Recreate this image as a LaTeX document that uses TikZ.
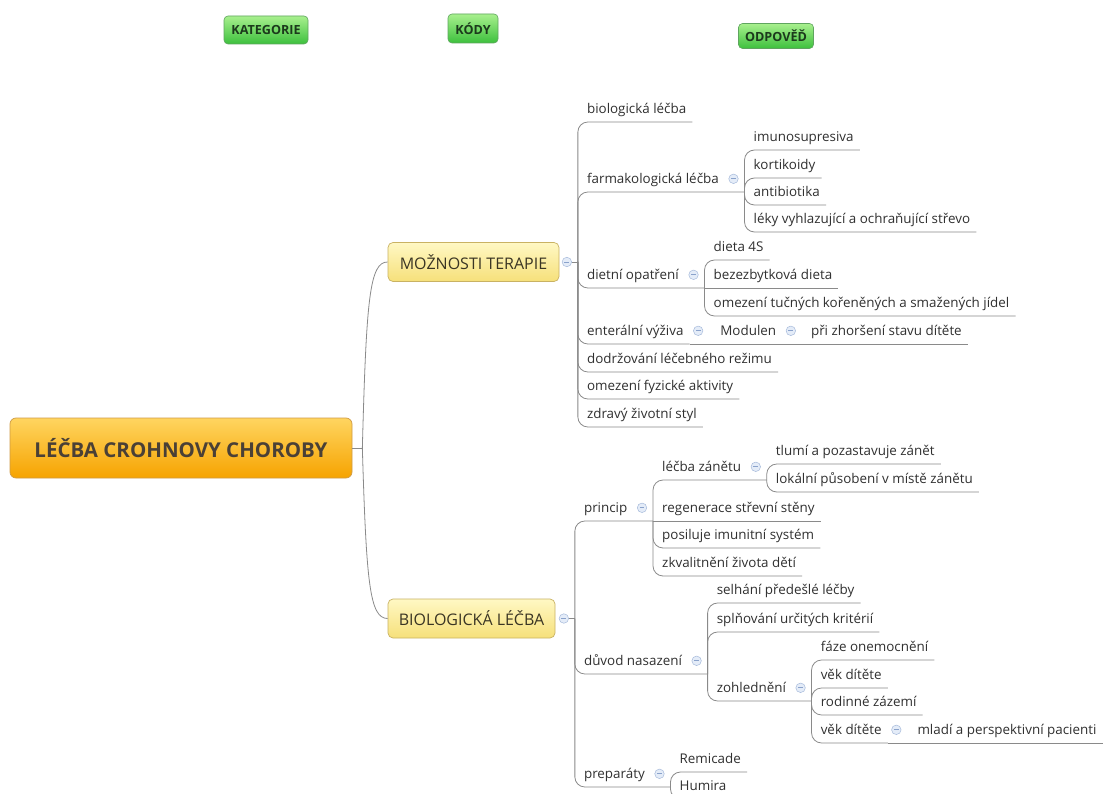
\documentclass[tikz,border=0pt]{standalone}
\usepackage{fontspec}
\setmainfont{Open Sans}
\usetikzlibrary{calc}
\definecolor{lnc}{HTML}{8A8A8A}
\definecolor{txc}{HTML}{303030}
\definecolor{togf}{HTML}{E4ECF8}
\definecolor{togd}{HTML}{A6BADB}
\definecolor{togm}{HTML}{8AA2CB}
\definecolor{rootT}{HTML}{FFD560}
\definecolor{rootB}{HTML}{F6A300}
\definecolor{rootD}{HTML}{CF9B45}
\definecolor{rootX}{HTML}{4A4036}
\definecolor{catT}{HTML}{FFF8C4}
\definecolor{catB}{HTML}{F6E07A}
\definecolor{catD}{HTML}{C9B263}
\definecolor{catX}{HTML}{3A3524}
\definecolor{hdrT}{HTML}{A8F08E}
\definecolor{hdrB}{HTML}{3DC03D}
\definecolor{hdrD}{HTML}{5FA55F}
\definecolor{hdrX}{HTML}{1C3A1C}
\newcommand{\leaffont}{\fontsize{13.4}{16}\selectfont}
\newcommand{\lf}[4]{\node[leaf] (#1) at ($(#2 |- 0,#3)+(3,0)$) {#4};}
\newcommand{\cn}[2]{\draw[conn] (#1) |- (#2.south east);}
\newcommand{\cp}[3]{\draw[conn] (#1) |- (#3);}
\newcommand{\tg}[2]{\node[tog, anchor=west] (#1) at ([xshift=3.5pt,yshift=1.5pt]#2.east) {};}
\begin{document}
\begin{tikzpicture}[x=1pt,y=-1pt,
  conn/.style={draw=lnc, line width=0.8pt, rounded corners=10pt},
  ln/.style={draw=lnc, line width=0.8pt},
  leaf/.style={anchor=south west, inner xsep=6pt, inner ysep=5pt, text height=10pt, text depth=3pt, text=txc, font=\leaffont},
  tog/.style={circle, minimum size=9.5pt, inner sep=0pt, fill=togf, draw=togd, line width=0.5pt,
    path picture={\draw[togm, line width=0.9pt] ([xshift=-2.4pt]path picture bounding box.center) -- ([xshift=2.4pt]path picture bounding box.center);}},
  hdr/.style={rounded corners=4pt, top color=hdrT, bottom color=hdrB, draw=hdrD, line width=0.6pt, inner sep=0pt, text=hdrX, font=\bfseries\fontsize{12.6}{15}\selectfont},
  rootbox/.style={rounded corners=6pt, top color=rootT, bottom color=rootB, draw=rootD, line width=0.7pt, inner sep=0pt, minimum width=342pt, minimum height=60pt, text=rootX, font=\bfseries\fontsize{20.5}{24}\selectfont},
  catbox/.style={rounded corners=5pt, top color=catT, bottom color=catB, draw=catD, line width=0.7pt, inner sep=0pt, minimum height=39pt, text=catX, font=\fontsize{16}{19}\selectfont}
]
\useasboundingbox[fill=white] (0,0) rectangle (1105,794);

% headers
\node[hdr, minimum width=84pt, minimum height=28pt] (hk) at (266,30) {KATEGORIE};
\node[hdr, minimum width=50pt, minimum height=29pt] (hc) at (473,28.5) {KÓDY};
\node[hdr, minimum width=75pt, minimum height=25pt] (ho) at (776,36) {ODPOVĚĎ};

% root and categories
\node[rootbox] (root) at (181,448) {LÉČBA CROHNOVY CHOROBY};
\node[catbox, minimum width=171pt] (moz) at (473.5,262) {MOŽNOSTI TERAPIE};
\node[catbox, minimum width=167pt] (bio) at (471.5,618.5) {BIOLOGICKÁ LÉČBA};
\coordinate (J) at ($(root.east)+(10,0)$);
\draw[ln] (root.east) -- (J);
\draw[ln] (J) .. controls ($(J)+(4,-150)$) and ($(moz.west)+(-18,0)$) .. (moz.west);
\draw[ln] (J) .. controls ($(J)+(4,135)$) and ($(bio.west)+(-18,0)$) .. (bio.west);

\node[tog, anchor=west] (tm) at ([xshift=2.5pt]moz.east) {};
\node[tog, anchor=west] (tb) at ([xshift=3.5pt]bio.east) {};
\coordinate (Pm) at ($(tm.east)+(6,0)$);
\coordinate (Pb) at ($(tb.east)+(6,0)$);
\draw[ln] (tm.east) -- (Pm);
\draw[ln] (tb.east) -- (Pb);

% ---- MOZNOSTI TERAPIE
\lf{m1}{Pm}{122}{biologická léčba}
\lf{m2}{Pm}{192}{farmakologická léčba}
\lf{m3}{Pm}{288}{dietní opatření}
\lf{m4}{Pm}{344}{enterální výživa}
\lf{m5}{Pm}{372}{dodržování léčebného režimu}
\lf{m6}{Pm}{399}{omezení fyzické aktivity}
\lf{m7}{Pm}{427}{zdravý životní styl}
\tg{tf}{m2}
\tg{td}{m3}
\tg{te}{m4}
\coordinate (Pf) at ($(tf.east |- m2.south)+(6,0)$);
\coordinate (Pd) at ($(td.east |- m3.south)+(6,0)$);
\cn{Pm}{m1}
\cp{Pm}{m2}{Pf}
\cp{Pm}{m3}{Pd}
\cn{Pm}{m4}
\cn{Pm}{m5}
\cn{Pm}{m6}
\cn{Pm}{m7}

\lf{f1}{Pf}{150}{imunosupresiva}
\lf{f2}{Pf}{178}{kortikoidy}
\lf{f3}{Pf}{205}{antibiotika}
\lf{f4}{Pf}{232}{léky vyhlazující a ochraňující střevo}
\cn{Pf}{f1}
\cn{Pf}{f2}
\cn{Pf}{f3}
\cn{Pf}{f4}

\lf{d1}{Pd}{260}{dieta 4S}
\lf{d2}{Pd}{288}{bezezbytková dieta}
\lf{d3}{Pd}{316}{omezení tučných kořeněných a smažených jídel}
\cn{Pd}{d1}
\draw[ln] (Pd) -- (d2.south east);
\cn{Pd}{d3}

\node[leaf] (e1) at ($(te.east |- 0,344)+(11,0)$) {Modulen};
\tg{te1}{e1}
\node[leaf] (e2) at ($(te1.east |- 0,344)+(9,0)$) {při zhoršení stavu dítěte};
\draw[ln] (m4.south east) -- (e1.south east);
\draw[ln] (e1.south east) -- (e2.south east);

% ---- BIOLOGICKA LECBA
\lf{b1}{Pb}{521}{princip}
\lf{b2}{Pb}{674}{důvod nasazení}
\lf{b3}{Pb}{787}{preparáty}
\tg{tp}{b1}
\tg{tn}{b2}
\tg{tr}{b3}
\coordinate (Pp) at ($(tp.east |- b1.south)+(6,0)$);
\coordinate (Pn) at ($(tn.east |- b2.south)+(6,0)$);
\coordinate (Pr) at ($(tr.east |- b3.south)+(6,0)$);
\cp{Pb}{b1}{Pp}
\cp{Pb}{b2}{Pn}
\cp{Pb}{b3}{Pr}

\lf{p1}{Pp}{480}{léčba zánětu}
\lf{p2}{Pp}{521}{regenerace střevní stěny}
\lf{p3}{Pp}{548}{posiluje imunitní systém}
\lf{p4}{Pp}{576}{zkvalitnění života dětí}
\tg{tz}{p1}
\coordinate (Pz) at ($(tz.east |- p1.south)+(6,0)$);
\cp{Pp}{p1}{Pz}
\draw[ln] (Pp) -- (p2.south east);
\cn{Pp}{p3}
\cn{Pp}{p4}

\lf{z1}{Pz}{464}{tlumí a pozastavuje zánět}
\lf{z2}{Pz}{492}{lokální působení v místě zánětu}
\cn{Pz}{z1}
\cn{Pz}{z2}

\lf{n1}{Pn}{603}{selhání předešlé léčby}
\lf{n2}{Pn}{632}{splňování určitých kritérií}
\lf{n3}{Pn}{701}{zohlednění}
\tg{th}{n3}
\coordinate (Ph) at ($(th.east |- n3.south)+(6,0)$);
\cn{Pn}{n1}
\cn{Pn}{n2}
\cp{Pn}{n3}{Ph}

\lf{h1}{Ph}{660}{fáze onemocnění}
\lf{h2}{Ph}{688}{věk dítěte}
\lf{h3}{Ph}{715}{rodinné zázemí}
\lf{h4}{Ph}{743}{věk dítěte}
\tg{th4}{h4}
\node[leaf] (h5) at ($(th4.east |- 0,743)+(10,0)$) {mladí a perspektivní pacienti};
\cn{Ph}{h1}
\cn{Ph}{h2}
\cn{Ph}{h3}
\cn{Ph}{h4}
\draw[ln] (h4.south east) -- (h5.south east);

\lf{r1}{Pr}{772}{Remicade}
\lf{r2}{Pr}{799}{Humira}
\cn{Pr}{r1}
\cn{Pr}{r2}
\end{tikzpicture}
\end{document}
